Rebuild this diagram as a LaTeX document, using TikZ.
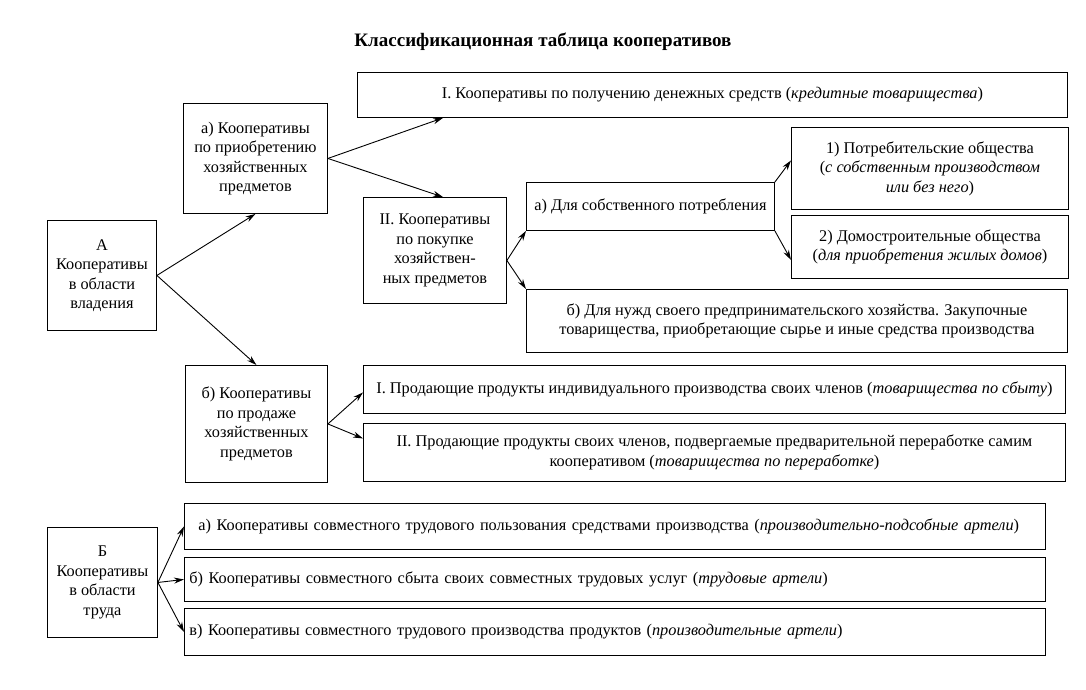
\documentclass[tikz,border=0pt]{standalone}
\usepackage{fontspec}
\setmainfont{Liberation Serif}
\usetikzlibrary{arrows.meta}

\begin{document}
\begin{tikzpicture}[
	x=1pt, y=-1pt,
	box/.style={rectangle, draw=black, line width=0.9pt, anchor=north west, inner sep=2pt, align=center, font=\fontsize{16.3}{19.5}\selectfont},
	leftbox/.style={box, align=left, inner xsep=5pt, text width=851pt},
	link/.style={-{Stealth[length=10pt,width=6pt]}, line width=0.9pt},
	title/.style={font=\bfseries\fontsize{19}{22}\selectfont}
	]
	\useasboundingbox (0,0) rectangle (1086,690);
	\node[title] (head) at (543,42) {Классификационная таблица кооперативов};

	% A: cooperatives of ownership
	\node[box, minimum width=109pt, minimum height=110pt] (A) at (47,220) {А\\Кооперативы\\в области\\владения};
	\node[box, minimum width=144pt, minimum height=110pt] (aq) at (183,103) {а) Кооперативы\\по приобретению\\хозяйственных\\предметов};
	\node[box, minimum width=710pt, minimum height=45pt] (credit) at (357,72) {I. Кооперативы по получению денежных средств (\textit{кредитные товарищества})};
	\node[box, minimum width=143pt, minimum height=106pt] (purch) at (363,197) {II. Кооперативы\\по покупке\\хозяйствен-\\ных предметов};
	\node[box, minimum width=248pt, minimum height=48pt] (own) at (526,182) {а) Для собственного потребления};
	\node[box, minimum width=277pt, minimum height=82pt] (cons) at (791,127) {1) Потребительские общества\\(\textit{с собственным производством}\\\textit{или без него})};
	\node[box, minimum width=277pt, minimum height=63pt] (home) at (791,215) {2) Домостроительные общества\\(\textit{для приобретения жилых домов})};
	\node[box, minimum width=541pt, minimum height=63pt] (busi) at (526,289) {б) Для нужд своего предпринимательского хозяйства. Закупочные\\товарищества, приобретающие сырье и иные средства производства};
	\node[box, minimum width=142pt, minimum height=117pt] (sale) at (185,365) {б) Кооперативы\\по продаже\\хозяйственных\\предметов};
	\node[box, minimum width=702pt, minimum height=48pt] (sellI) at (363,365) {I. Продающие продукты индивидуального производства своих членов (\textit{товарищества по сбыту})};
	\node[box, minimum width=702pt, minimum height=58pt] (sellII) at (363,423) {II. Продающие продукты своих членов, подвергаемые предварительной переработке самим\\кооперативом (\textit{товарищества по переработке})};

	% B: cooperatives of labour
	\node[box, minimum width=110pt, minimum height=110pt] (B) at (47,527) {Б\\Кооперативы\\в области\\труда};
	\node[leftbox, minimum height=46pt] (labA) at (184,503) {\hspace*{9pt}а) Кооперативы совместного трудового пользования средствами производства (\textit{производительно-подсобные артели})};
	\node[leftbox, minimum height=44pt] (labB) at (184,557) {б) Кооперативы совместного сбыта своих совместных трудовых услуг (\textit{трудовые артели})};
	\node[leftbox, minimum height=47pt] (labC) at (184,608) {в) Кооперативы совместного трудового производства продуктов (\textit{производительные артели})};

	\draw[link] (A.east) -- (aq.south);
	\draw[link] (A.east) -- (sale.north);
	\draw[link] (aq.east) -- ([xshift=86pt]credit.south west);
	\draw[link] (aq.east) -- ([xshift=8pt]purch.north);
	\draw[link] ([yshift=-10pt]purch.east) -- (own.south west);
	\draw[link] ([yshift=-10pt]purch.east) -- (busi.north west);
	\draw[link] (own.north east) -- ([yshift=8pt]cons.west);
	\draw[link] (own.south east) -- ([yshift=-13pt]home.west);
	\draw[link] (sale.east) -- ([yshift=-3pt]sellI.west);
	\draw[link] (sale.east) -- ([yshift=14pt]sellII.west);
	\draw[link] (B.east) -- (labA.west);
	\draw[link] (B.east) -- (labB.west);
	\draw[link] (B.east) -- (labC.west);
\end{tikzpicture}
\end{document}
